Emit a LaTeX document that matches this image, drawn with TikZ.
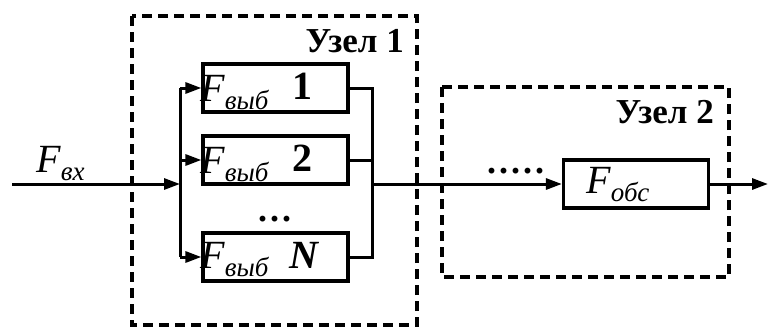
\documentclass[tikz,border=0pt]{standalone}
\usepackage{fontspec}
\setmainfont{Liberation Serif}
\usetikzlibrary{arrows.meta}
\tikzset{
  wire/.style={line width=3pt},
  arr/.style={wire,-{Triangle[length=16pt,width=11pt]}},
  blk/.style={draw,line width=3.2pt,minimum width=145pt,minimum height=48pt,inner sep=0pt},
  grp/.style={draw,line width=3.2pt,dash pattern=on 10pt off 6pt},
  lbl/.style={anchor=base west,inner sep=0pt,font=\fontsize{40}{40}\selectfont},
  num/.style={anchor=base west,inner sep=0pt,font=\fontsize{40}{40}\selectfont\bfseries},
  ttl/.style={anchor=base east,inner sep=0pt,font=\fontsize{35}{35}\selectfont\bfseries},
  dots/.style={anchor=base west,inner sep=0pt,font=\fontsize{36}{36}\selectfont\bfseries}
}
\newcommand{\Fsub}[1]{\textit{F}\raisebox{-0.2em}{\fontsize{27}{27}\selectfont\itshape #1}}
\begin{document}
\begin{tikzpicture}[x=1pt,y=-1pt]
  \useasboundingbox (0,0) rectangle (768,327);
  % group frames
  \draw[grp] (132,16) rectangle (417,325);
  \draw[grp] (442,87) rectangle (729,277);
  \node[ttl] (t1) at (404,52) {Узел 1};
  \node[ttl] (t2) at (714,123) {Узел 2};
  % selector blocks
  \node[blk] (b1) at (275.5,88) {};
  \node[blk] (b2) at (275.5,160) {};
  \node[blk] (bn) at (275.5,257) {};
  \node[blk] (bo) at (636,184) {};
  \node[lbl] (l1) at (200,101) {\Fsub{выб}};
  \node[lbl] (l2) at (200,173) {\Fsub{выб}};
  \node[lbl] (ln) at (200,268) {\Fsub{выб}};
  \node[num] (n1) at (292,99) {1};
  \node[num] (n2) at (292,171) {2};
  \node[num,font=\fontsize{40}{40}\selectfont\bfseries\itshape] (nn) at (289,268) {N};
  \node[lbl] (lo) at (586,193) {\Fsub{обс}};
  \node[lbl] (lin) at (36,172) {\Fsub{вх}};
  \node[dots] (d1) at (258,221) {.\kern3pt.\kern3pt.};
  \node[dots] (d2) at (487,173) {.\kern3pt.\kern3pt.\kern3pt.\kern3pt.};
  % wiring
  \coordinate (in) at (12,184);
  \coordinate (sl) at (180,184);
  \coordinate (sr) at (372,184);
  \coordinate (out) at (768,184);
  \draw[arr] (in) -- (sl);
  \draw[wire] (sl |- b1) -- (sl |- bn);
  \draw[arr] (sl |- b1) -- (b1.west);
  \draw[arr] (sl |- b2) -- (b2.west);
  \draw[arr] (sl |- bn) -- (bn.west);
  \draw[wire] (b1.east) -- (sr |- b1) -- (sr |- bn) -- (bn.east);
  \draw[wire] (b2.east) -- (sr |- b2);
  \draw[arr] (sr) -- (bo.west);
  \draw[arr] (bo.east) -- (out);
\end{tikzpicture}
\end{document}
